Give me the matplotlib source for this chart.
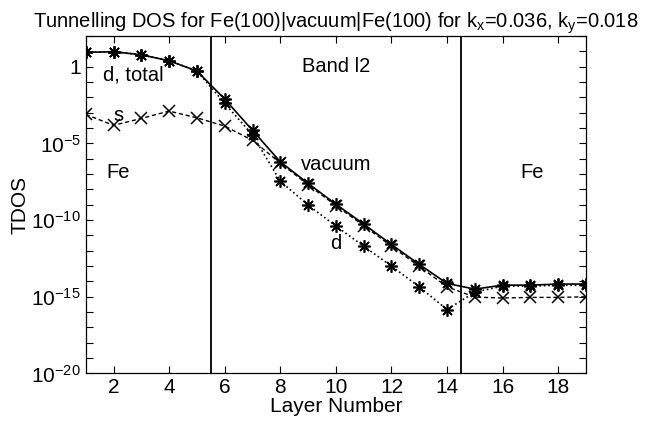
import numpy as np
import matplotlib
matplotlib.use("Agg")
import matplotlib.pyplot as plt
from matplotlib.ticker import FixedLocator, FixedFormatter, NullFormatter

plt.rcParams['font.family'] = ['Liberation Sans', 'DejaVu Sans']
plt.rcParams['mathtext.fontset'] = 'custom'
plt.rcParams['mathtext.rm'] = 'Liberation Sans'
plt.rcParams['mathtext.it'] = 'Liberation Sans'
plt.rcParams['mathtext.default'] = 'regular'

# ---- data (log10 of TDOS) ----
layers = list(range(1, 20))
log_total = [0.94, 0.98, 0.78, 0.39, -0.28, -2.11, -4.15, -6.20, -7.61, -8.96,
             -10.26, -11.59, -12.89, -14.13, -14.50, -14.24, -14.24, -14.17, -14.17]
log_d = [0.94, 0.98, 0.78, 0.39, -0.28, -2.39, -4.45, -7.46, -9.02, -10.39,
         -11.70, -13.00, -14.35, -15.83, -14.70, -14.30, -14.30, -14.25, -14.25]
log_s = [-3.11, -3.82, -3.37, -2.89, -3.33, -3.87, -4.80, -6.28, -7.70, -9.05,
         -10.36, -11.70, -13.02, -14.35, -15.02, -15.08, -15.04, -15.04, -15.00]
total = [10.0 ** v for v in log_total]
d_dos = [10.0 ** v for v in log_d]
s_dos = [10.0 ** v for v in log_s]

boundaries = [5.5, 14.5]
xticks = [2, 4, 6, 8, 10, 12, 14, 16, 18]
yticks = [1e-20, 1e-15, 1e-10, 1e-5, 1]
ytick_labels = ['$10^{-20}$', '$10^{-15}$', '$10^{-10}$', '$10^{-5}$', '1']
yminor = [10.0 ** k for k in range(-20, 3)]

fig = plt.figure(figsize=(6.5, 4.22), dpi=100)
ax = fig.add_axes([0.132, 0.115, 0.7695, 0.7995])

star = (8, 2, 0)
ax.plot(layers, total, '-', color='black', lw=1.2, marker=star, ms=9, mew=1.2)
ax.plot(layers, d_dos, ':', color='black', lw=1.2, marker=star, ms=9, mew=1.2)
ax.plot(layers, s_dos, '--', color='black', lw=1.0, marker='x', ms=8, mew=1.1,
        dashes=(3, 2))
for b in boundaries:
    ax.axvline(b, color='black', lw=1.3)

ax.set_yscale('log')
ax.set_xlim(1, 19)
ax.set_ylim(1e-20, 1e2)
ax.xaxis.set_major_locator(FixedLocator(xticks))
ax.yaxis.set_major_locator(FixedLocator(yticks))
ax.yaxis.set_major_formatter(FixedFormatter(ytick_labels))
ax.yaxis.set_minor_locator(FixedLocator(yminor))
ax.yaxis.set_minor_formatter(NullFormatter())
ax.tick_params(axis='both', which='both', direction='in', top=True, right=True,
               labelsize=15, width=0.8)
ax.tick_params(axis='both', which='major', length=5)
ax.tick_params(axis='y', which='minor', length=5)
for sp in ax.spines.values():
    sp.set_linewidth(0.9)

ax.set_xlabel('Layer Number', fontsize=15, labelpad=0)
ax.set_ylabel('TDOS', fontsize=15, labelpad=1)
ax.set_title('Tunnelling DOS for Fe(100)|vacuum|Fe(100) for k$_x$=0.036, k$_y$=0.018',
             fontsize=14.5, pad=6)

fs = 14.5
ax.text(2.7, 10 ** -0.54, 'd, total', fontsize=fs, ha='center', va='center')
ax.text(2.16, 10 ** -3.15, 's', fontsize=fs, ha='center', va='center')
ax.text(2.15, 10 ** -6.9, 'Fe', fontsize=fs, ha='center', va='center')
ax.text(10.0, 10 ** 0.0, 'Band l2', fontsize=fs, ha='center', va='center')
ax.text(10.0, 10 ** -6.4, 'vacuum', fontsize=fs, ha='center', va='center')
ax.text(10.0, 10 ** -11.5, 'd', fontsize=fs, ha='center', va='center')
ax.text(17.06, 10 ** -6.9, 'Fe', fontsize=fs, ha='center', va='center')

fig.savefig('out.png', dpi=100)
